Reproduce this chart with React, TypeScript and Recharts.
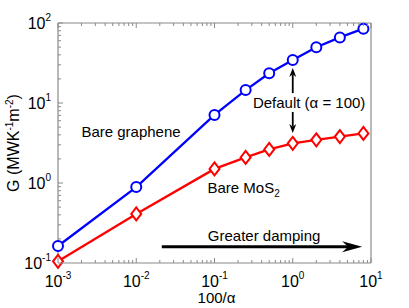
import React from 'react';
import { LineChart, Line, XAxis, YAxis, ReferenceLine, ReferenceDot, Label } from 'recharts';

// 100/alpha values and conductance G (MW K^-1 m^-2)
const ratio = [0.001, 0.01, 0.1, 0.25, 0.5, 1, 2, 4, 8];
const grapheneG = [0.163, 0.89, 7.1, 14.5, 23.5, 34.5, 49.7, 66, 85];
const mos2G = [0.105, 0.41, 1.5, 2.09, 2.63, 3.13, 3.47, 3.8, 4.17];

const xDecades = [0.001, 0.01, 0.1, 1, 10];
const yDecades = [0.1, 1, 10, 100];
const minorSteps = [2, 3, 4, 5, 6, 7, 8, 9];

// annotation anchors, in data units
const defaultArrowX = 1;
const upArrow = [13.3, 27.4];
const downArrow = [7.72, 4.22];
const dampingArrowX = [0.0212, 7.7];
const dampingArrowY = 0.16;

const FONT = '"Liberation Sans", Arial, sans-serif';
const FRAME = '#8a8a8a';
const BLUE = '#0000ff';
const RED = '#ff0000';

const withMinors = (dec: number[]) =>
  [...dec, ...dec.slice(0, -1).flatMap(d => minorSteps.map(k => d * k))].sort((a, b) => a - b);

const xTicks = withMinors(xDecades);
const yTicks = withMinors(yDecades);

const data = ratio.map((r, i) => ({ r, graphene: grapheneG[i], mos2: mos2G[i] }));

const expOf = (v: number) => String(Math.round(Math.log10(v)));

const makeTick = (side: 'bottom' | 'top' | 'left' | 'right', decades: number[]) => (p: any) => {
  const { x, y, payload } = p;
  const v = payload.value;
  const major = decades.includes(v);
  const len = major ? 5 : 3;
  let x2 = x, y2 = y;
  if (side === 'bottom') y2 = y - len;
  if (side === 'top') y2 = y + len;
  if (side === 'left') x2 = x + len;
  if (side === 'right') x2 = x - len;
  return (
    <g>
      <line x1={x} y1={y} x2={x2} y2={y2} stroke={FRAME} strokeWidth={1} />
      {major && side === 'bottom' && (
        <text x={x} y={y + 24} textAnchor="middle" fontSize={16} fontFamily={FONT} fill="#000">
          10<tspan dy={-8} fontSize={10}>{expOf(v)}</tspan>
        </text>
      )}
      {major && side === 'left' && (
        <text x={x - 7} y={y + 5.5} textAnchor="end" fontSize={16} fontFamily={FONT} fill="#000">
          10<tspan dy={-8} fontSize={10}>{expOf(v)}</tspan>
        </text>
      )}
    </g>
  );
};

const Diamond = (p: any) => {
  const { cx, cy, index } = p;
  if (cx == null || cy == null) return null;
  return (
    <polygon
      key={`d${index}`}
      points={`${cx},${cy - 6.5} ${cx + 5},${cy} ${cx},${cy + 6.5} ${cx - 5},${cy}`}
      fill="#fff"
      stroke={RED}
      strokeWidth={2}
    />
  );
};

const arrow = (w: number, head: number, hw: number) => (p: any) => {
  const { x1, y1, x2, y2 } = p;
  const dx = x2 - x1, dy = y2 - y1;
  const L = Math.hypot(dx, dy) || 1;
  const ux = dx / L, uy = dy / L;
  const px = -uy, py = ux;
  const bx = x2 - ux * head, by = y2 - uy * head;
  const nx = x2 - ux * head * 0.7, ny = y2 - uy * head * 0.7;
  return (
    <g>
      <line x1={x1} y1={y1} x2={nx} y2={ny} stroke="#000" strokeWidth={w} />
      <polygon
        points={`${x2},${y2} ${bx + px * hw},${by + py * hw} ${nx},${ny} ${bx - px * hw},${by - py * hw}`}
        fill="#000"
      />
    </g>
  );
};

const note = (content: React.ReactNode, anchor: 'middle' | 'start' = 'middle') => (p: any) => (
  <text x={p.cx} y={p.cy} textAnchor={anchor} fontSize={15} fontFamily={FONT} fill="#000">
    {content}
  </text>
);

export default function App() {
  return (
    <div style={{ position: 'absolute', left: 0, top: 0, width: 409, height: 308, background: '#fff' }}>
      <LineChart width={409} height={308} data={data} margin={{ top: 22, right: 37, bottom: 44, left: 57 }}>
        <XAxis
          dataKey="r"
          type="number"
          scale="log"
          domain={[0.001, 10]}
          ticks={xTicks}
          interval={0}
          height={1}
          tickSize={0}
          tickMargin={0}
          axisLine={{ stroke: FRAME, strokeWidth: 1.2 }}
          tickLine={false}
          tick={makeTick('bottom', xDecades)}
        >
          <Label
            content={(p: any) => {
              const vb = p.viewBox;
              return (
                <text x={vb.x + vb.width / 2 + 2} y={vb.y + 39.5} textAnchor="middle" fontSize={15} fontFamily={FONT} fill="#000">
                  100/α
                </text>
              );
            }}
          />
        </XAxis>
        <XAxis
          xAxisId="top"
          orientation="top"
          dataKey="r"
          type="number"
          scale="log"
          domain={[0.001, 10]}
          ticks={xTicks}
          interval={0}
          height={1}
          tickSize={0}
          tickMargin={0}
          axisLine={{ stroke: FRAME, strokeWidth: 1.2 }}
          tickLine={false}
          tick={makeTick('top', xDecades)}
        />
        <YAxis
          type="number"
          scale="log"
          domain={[0.1, 100]}
          ticks={yTicks}
          interval={0}
          width={1}
          tickSize={0}
          tickMargin={0}
          axisLine={{ stroke: FRAME, strokeWidth: 1.2 }}
          tickLine={false}
          tick={makeTick('left', yDecades)}
        >
          <Label
            content={(p: any) => {
              const vb = p.viewBox;
              return (
                <text
                  transform={`translate(${vb.x - 38.5},${vb.y + vb.height / 2}) rotate(-90)`}
                  textAnchor="middle"
                  fontSize={16}
                  fontFamily={FONT}
                  fill="#000"
                >
                  G (MWK<tspan dy={-6} fontSize={10}>-1</tspan>
                  <tspan dy={6}>m</tspan>
                  <tspan dy={-6} fontSize={10}>-2</tspan>
                  <tspan dy={6}>)</tspan>
                </text>
              );
            }}
          />
        </YAxis>
        <YAxis
          yAxisId="right"
          orientation="right"
          type="number"
          scale="log"
          domain={[0.1, 100]}
          ticks={yTicks}
          interval={0}
          width={1}
          tickSize={0}
          tickMargin={0}
          axisLine={{ stroke: FRAME, strokeWidth: 1.2 }}
          tickLine={false}
          tick={makeTick('right', yDecades)}
        />
        <Line
          type="linear"
          dataKey="mos2"
          stroke={RED}
          strokeWidth={2.3}
          dot={Diamond}
          activeDot={false}
          isAnimationActive={false}
        />
        <Line
          type="linear"
          dataKey="graphene"
          stroke={BLUE}
          strokeWidth={2.3}
          dot={{ r: 5, stroke: BLUE, strokeWidth: 2, fill: '#fff' }}
          activeDot={false}
          isAnimationActive={false}
        />
        <ReferenceLine
          segment={[{ x: defaultArrowX, y: upArrow[0] }, { x: defaultArrowX, y: upArrow[1] }]}
          shape={arrow(1.8, 9, 3.5)}
        />
        <ReferenceLine
          segment={[{ x: defaultArrowX, y: downArrow[0] }, { x: defaultArrowX, y: downArrow[1] }]}
          shape={arrow(1.8, 9, 3.5)}
        />
        <ReferenceLine
          segment={[{ x: dampingArrowX[0], y: dampingArrowY }, { x: dampingArrowX[1], y: dampingArrowY }]}
          shape={arrow(3, 20, 5.5)}
        />
        <ReferenceDot x={0.00858} y={3.73} r={0} shape={note('Bare graphene')} />
        <ReferenceDot x={1.62} y={8.59} r={0} shape={note('Default (α = 100)')} />
        <ReferenceDot
          x={0.2355}
          y={0.743}
          r={0}
          shape={note(<>Bare MoS<tspan fontSize={10} dy={4}>2</tspan></>)}
        />
        <ReferenceDot x={0.43} y={0.19} r={0} shape={note('Greater damping')} />
      </LineChart>
    </div>
  );
}
